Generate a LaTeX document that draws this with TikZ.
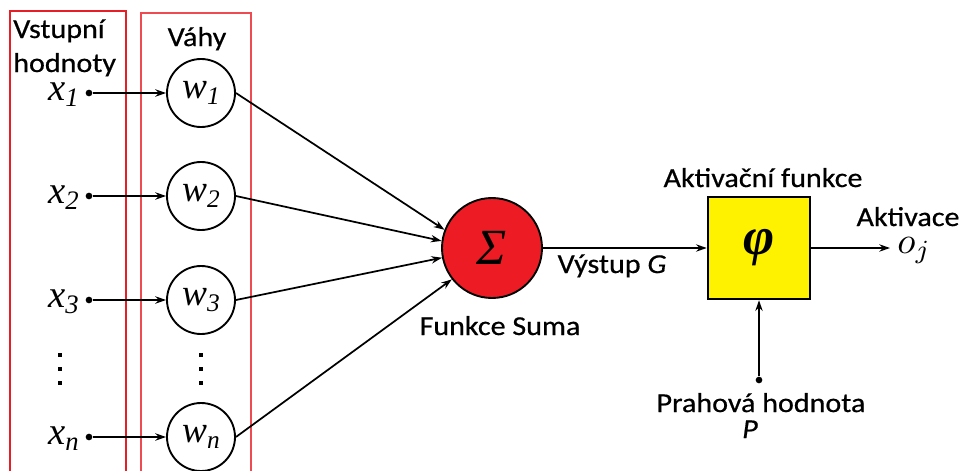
\documentclass[tikz,border=0pt]{standalone}
\usepackage{graphicx}
\usepackage{fontspec}
\usetikzlibrary{arrows.meta}
\newfontfamily\lblfont[FakeStretch=1.1, FakeBold=0.6]{Carlito}
\newfontfamily\tnr{Liberation Serif}
\definecolor{boxred}{RGB}{232,30,38}
\definecolor{sumred}{RGB}{237,28,36}
\definecolor{actyellow}{RGB}{255,242,0}
\tikzset{
    %Define standard arrow tip
    >={Stealth[length=8pt,width=5.5pt]},
    % Define arrow style
    pil/.style={
           ->,
           line width=1.3pt,}
}
\newcommand{\xin}[1]{{\fontsize{29}{29}\selectfont\tnr\itshape x\raisebox{-5pt}{\fontsize{20}{20}\selectfont #1}}}
\newcommand{\wgt}[1]{{\fontsize{28}{28}\selectfont\tnr\itshape w\raisebox{-5pt}{\fontsize{19}{19}\selectfont #1}}}

\begin{document}
\begin{tikzpicture}[x=0.75pt, y=-0.75pt]
\tikzstyle{lbl}=[font=\lblfont\fontsize{20.5}{21}\selectfont, inner sep=0pt]
\tikzstyle{dot}=[circle, fill, inner sep=0pt, minimum size=5pt]
\tikzstyle{wnode}=[draw, circle, line width=1.4pt, minimum size=51pt, inner sep=0pt]

\useasboundingbox (0,0) rectangle (964,471);

% groups
\draw[boxred, line width=1.6pt] (10,11) rectangle (126,480);
\draw[boxred!80, line width=1pt] (141,13) rectangle (251,480);
\node[lbl, anchor=base west] (inlab1) at (13,38) {Vstupní};
\node[lbl, anchor=base west] (inlab2) at (13,72) {hodnoty};
\node[lbl, anchor=base] (wlab) at (197,46) {Váhy};

% inputs and weights
\foreach \i/\y in {1/93, 2/196, 3/300, n/437} {
  \node[anchor=base east, inner sep=0pt, text height=13pt] (x\i) at (79,\y+7) {\xin{\i}};
  \node[dot] (d\i) at (89,\y) {};
  \node[wnode] (w\i) at (201,\y) {\wgt{\i}};
  \draw[pil] (d\i) -- (w\i);
}
\foreach \cx in {60,201}
  \foreach \cy in {355,369,383}
    \fill (\cx-2.2,\cy-2.2) rectangle (\cx+2.2,\cy+2.2);

% sum
\node[draw, circle, fill=sumred, line width=1.4pt, minimum size=75pt, inner sep=0pt] (sum) at (492,248) {\fontsize{38}{38}\selectfont\tnr\itshape Σ};
\node[lbl, anchor=base] (sumlab) at (500,335) {Funkce Suma};

\draw[pil] (w1.east) -- (sum.159);
\draw[pil] (w2.east) -- (sum.172);
\draw[pil] (w3.east) -- (sum.191);
\draw[pil] (wn.east) -- (sum.218);

% activation
\node[draw, fill=actyellow, line width=1.4pt, minimum size=77pt, inner sep=0pt] (act) at (759,248) {\fontsize{40}{40}\selectfont\tnr\bfseries\itshape φ};
\node[lbl, anchor=base] (actlab) at (763,187) {Aktivační funkce};
\draw[pil] (sum) -- (act);
\node[lbl, anchor=base] (glab) at (612,273) {Výstup \textit{G}};

\coordinate (out) at (890,248);
\draw[pil] (act) -- (out);
\node[lbl, anchor=base] (outlab) at (908,226) {Aktivace};
\node[anchor=base west, inner sep=0pt] (oj) at (897,253) {\scalebox{2.8}{$o_j$}};

% threshold
\node[dot] (thr) at (759,380) {};
\draw[pil] (thr) -- (act);
\node[lbl, anchor=base] (thrlab) at (761,412) {Prahová hodnota};
\node[lbl, anchor=base] (plab) at (750,438) {\textit{P}};

\end{tikzpicture}
\end{document}
